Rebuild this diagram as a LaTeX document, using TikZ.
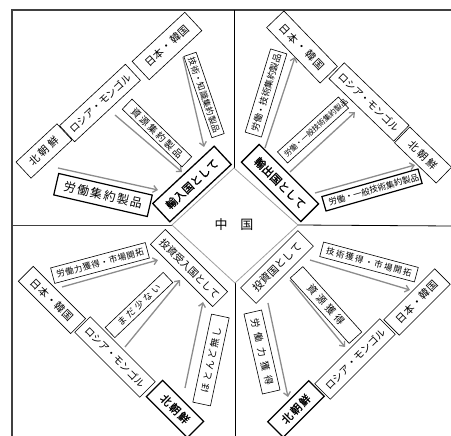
\documentclass[tikz,border=0pt]{standalone}
\usepackage{fontspec}
\setmainfont{Noto Sans CJK JP}[AutoFakeBold=1]
\usetikzlibrary{arrows.meta}
\makeatletter
\newcommand\spreadtxt[2]{\hbox to #1{\@tfor\spr@c:=#2\do{\spr@c\hfil}\unskip}}
\makeatother
\definecolor{arrg}{gray}{0.55}
\definecolor{diag}{gray}{0.62}
\definecolor{frm}{gray}{0.25}
\tikzset{
  fsz/.style={font=\fontsize{#1}{#1}\selectfont},
  cbox/.style={draw, rectangle, inner sep=1pt, line width=0.6pt, minimum height=22pt, fsz=10.5},
  rbox/.style={cbox, line width=1.3pt, font=\fontsize{11}{11}\selectfont\bfseries},
  lbox/.style={draw, rectangle, inner sep=1pt, line width=0.6pt},
  lboxb/.style={lbox, line width=1.2pt},
  arr/.style={draw=arrg, line width=1.3pt, -{Straight Barb[length=4pt,width=7pt]}},
}
\begin{document}
\begin{tikzpicture}[x=1pt,y=-1pt]
\useasboundingbox (0,0) rectangle (451,436);
% frame and dividers
\coordinate (dT) at (234,168);
\coordinate (dR) at (298,225);
\coordinate (dB) at (235,283);
\coordinate (dL) at (172,225);
\draw[frm, line width=1.3pt] (12,436) -- (12,10) -- (451,10);
\draw[line width=0.8pt] (dT) -- (234,10);
\draw[line width=0.8pt] (dB) -- (235,436);
\draw[frm, line width=0.8pt] (dL) -- (12,225);
\draw[line width=0.8pt] (dR) -- (451,226);
\draw[diag, line width=0.8pt] (dT) -- (dR) -- (dB) -- (dL) -- cycle;
\node[fsz=13] (cn) at (234,225) {中\hspace{1em}国};

% ---------- top left ----------
\node[cbox,rotate=43,minimum width=56pt] (tlN) at (44,151) {\spreadtxt{36pt}{北朝鮮}};
\node[cbox,rotate=43,minimum width=90pt,fsz=10] (tlR) at (100,103) {\spreadtxt{80pt}{ロシア・モンゴル}};
\node[cbox,rotate=43,minimum width=72pt,minimum height=25pt] (tlJ) at (167,46) {\spreadtxt{55pt}{日本・韓国}};
\node[rbox,rotate=43,minimum width=84pt,minimum height=25pt] (tlC) at (192,184) {\spreadtxt{67pt}{輸入国として}};
\node[lboxb,rotate=-13,minimum width=96pt,minimum height=22pt,fsz=12] (tlL1) at (103,195) {\spreadtxt{80pt}{労働集約製品}};
\node[lbox,rotate=-44,minimum width=83pt,minimum height=14pt,fsz=9.5] (tlL2) at (157,133) {\spreadtxt{67pt}{資源集約製品}};
\node[lbox,rotate=-71,minimum width=86pt,minimum height=13pt,fsz=8.5] (tlL3) at (204,95) {\spreadtxt{79pt}{技術・知識集約製品}};
\coordinate (tlA1s) at (58,168);  \coordinate (tlA1e) at (158,190);
\coordinate (tlA2s) at (115,115); \coordinate (tlA2e) at (182,172);
\coordinate (tlA3s) at (183,57);  \coordinate (tlA3e) at (204,147);
\draw[arr] (tlA1s) -- (tlA1e);
\draw[arr] (tlA2s) -- (tlA2e);
\draw[arr] (tlA3s) -- (tlA3e);

% ---------- top right ----------
\node[rbox,rotate=-45,minimum width=84pt,minimum height=25pt] (trC) at (280,183) {\spreadtxt{67pt}{輸出国として}};
\node[cbox,rotate=-46,minimum width=77pt,minimum height=24pt] (trJ) at (302,47) {\spreadtxt{60pt}{日本・韓国}};
\node[cbox,rotate=-44,minimum width=90pt,fsz=10] (trR) at (369,102) {\spreadtxt{80pt}{ロシア・モンゴル}};
\node[cbox,rotate=-44,minimum width=58pt] (trN) at (423,155) {\spreadtxt{36pt}{北朝鮮}};
\node[lbox,rotate=73,minimum width=87pt,minimum height=17pt,fsz=9] (trL1) at (266,93) {\spreadtxt{80pt}{労働・技術集約製品}};
\node[lbox,rotate=42,minimum width=82pt,minimum height=15pt,fsz=7.5] (trL2) at (313,130) {\spreadtxt{75pt}{労働・一般技術集約製品}};
\node[lboxb,rotate=16,minimum width=100pt,minimum height=15pt,fsz=8.5] (trL3) at (372,190) {\spreadtxt{90pt}{労働・一般技術集約製品}};
\coordinate (trA1s) at (265,148); \coordinate (trA1e) at (295,57);
\coordinate (trA2s) at (290,172); \coordinate (trA2e) at (355,112);
\coordinate (trA3s) at (315,193); \coordinate (trA3e) at (415,165);
\draw[arr] (trA1s) -- (trA1e);
\draw[arr] (trA2s) -- (trA2e);
\draw[arr] (trA3s) -- (trA3e);

% ---------- bottom left ----------
\node[cbox,rotate=-45,minimum width=88pt,minimum height=21pt,fsz=10] (blC) at (189,268) {\spreadtxt{78pt}{投資受入国として}};
\node[cbox,rotate=-45,minimum width=74pt,minimum height=21pt] (blJ) at (52,300) {\spreadtxt{55pt}{日本・韓国}};
\node[cbox,rotate=-45,minimum width=92pt,fsz=10] (blR) at (115,357) {\spreadtxt{80pt}{ロシア・モンゴル}};
\node[rbox,rotate=-45,minimum width=58pt,minimum height=23pt] (blN) at (175,409) {\spreadtxt{36pt}{北朝鮮}};
\node[lbox,rotate=15,minimum width=98pt,minimum height=16pt,fsz=8.5] (blL1) at (100,263) {\spreadtxt{90pt}{労働力獲得・市場開拓}};
\node[lbox,rotate=43.5,minimum width=80pt,minimum height=14pt,fsz=9] (blL2) at (139,305) {\spreadtxt{56pt}{まだ少ない}};
\node[lbox,rotate=78,minimum width=90pt,minimum height=18pt,fsz=9.5] (blL3) at (211,360) {\spreadtxt{66pt}{ほとんど無し}};
\coordinate (blA1s) at (62,287);  \coordinate (blA1e) at (158,260);
\coordinate (blA2s) at (125,347); \coordinate (blA2e) at (180,280);
\coordinate (blA3s) at (185,388); \coordinate (blA3e) at (203,302);
\draw[arr] (blA1s) -- (blA1e);
\draw[arr] (blA2s) -- (blA2e);
\draw[arr] (blA3s) -- (blA3e);

% ---------- bottom right ----------
\node[cbox,rotate=45,minimum width=81pt] (brC) at (277,267) {\spreadtxt{64pt}{投資国として}};
\node[cbox,rotate=45,minimum width=72pt] (brJ) at (417,302) {\spreadtxt{55pt}{日本・韓国}};
\node[cbox,rotate=45,minimum width=92pt,fsz=10] (brR) at (355,359) {\spreadtxt{80pt}{ロシア・モンゴル}};
\node[rbox,rotate=45,minimum width=58pt] (brN) at (296,409) {\spreadtxt{36pt}{北朝鮮}};
\node[lbox,rotate=-15,minimum width=98pt,minimum height=15pt,fsz=8.5] (brL1) at (369,262) {\spreadtxt{88pt}{技術獲得・市場開拓}};
\node[lbox,rotate=-48,minimum width=88pt,minimum height=17pt,fsz=10] (brL2) at (326,305) {\spreadtxt{50pt}{資源獲得}};
\node[lbox,rotate=-77,minimum width=82pt,minimum height=18pt,fsz=9.5] (brL3) at (262,352) {\spreadtxt{68pt}{労働力獲得}};
\coordinate (brA1s) at (310,260); \coordinate (brA1e) at (410,290);
\coordinate (brA2s) at (290,280); \coordinate (brA2e) at (345,347);
\coordinate (brA3s) at (268,303); \coordinate (brA3e) at (288,397);
\draw[arr] (brA1s) -- (brA1e);
\draw[arr] (brA2s) -- (brA2e);
\draw[arr] (brA3s) -- (brA3e);
\end{tikzpicture}
\end{document}
